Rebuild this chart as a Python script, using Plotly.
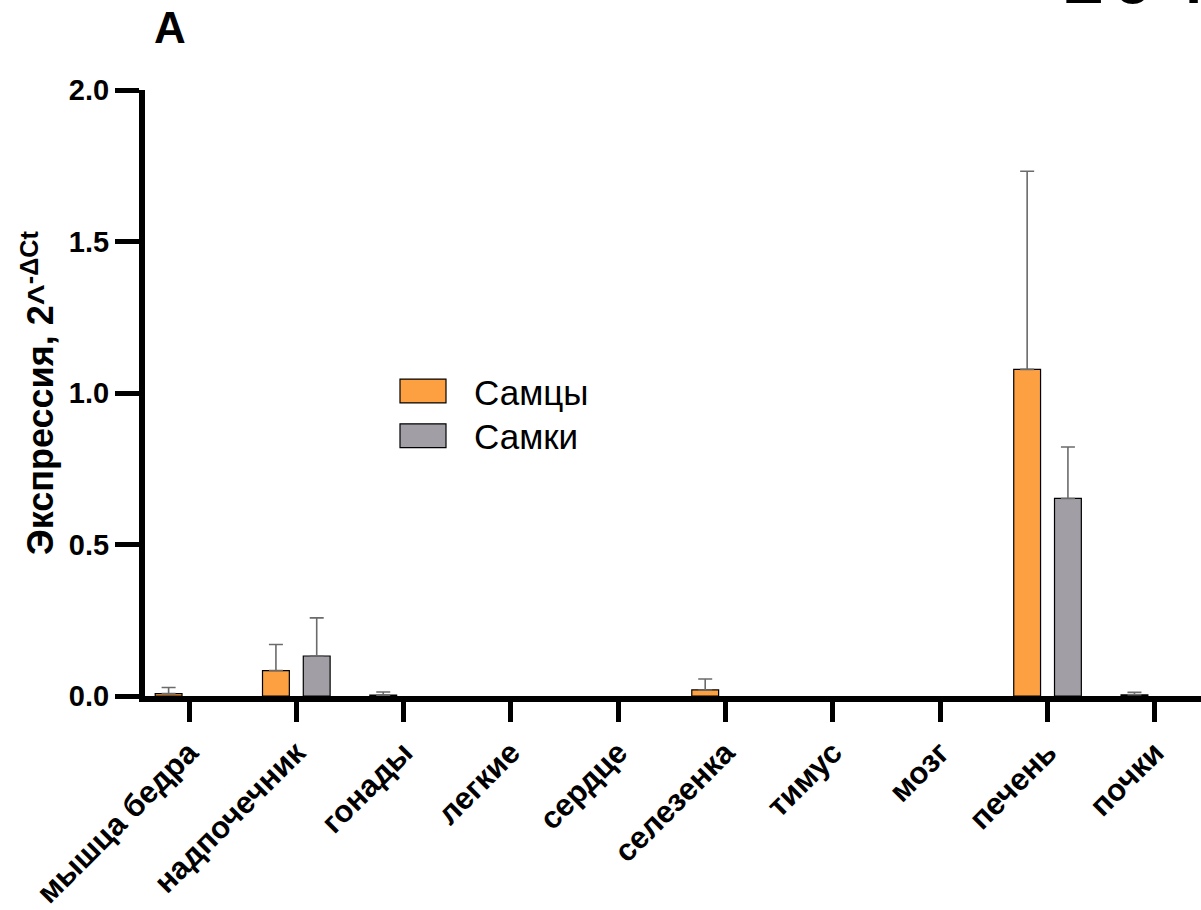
import plotly.graph_objects as go

# Tissue expression data (mean and upper error), 2^-ΔCt; None = no detectable signal
tissues = ["мышца бедра", "надпочечник", "гонады", "легкие", "сердце",
           "селезенка", "тимус", "мозг", "печень", "почки"]
males_mean = [0.008, 0.084, 0.003, None, None, 0.02, None, None, 1.078, 0.004]
males_err = [0.020, 0.086, 0.010, None, None, 0.036, None, None, 0.654, 0.008]
females_mean = [None, 0.132, None, None, None, None, None, None, 0.652, None]
females_err = [None, 0.126, None, None, None, None, None, None, 0.170, None]
series_names = ["Самцы", "Самки"]
y_ticks = [0.0, 0.5, 1.0, 1.5, 2.0]

ORANGE = "#FCA041"
GRAY = "#A19FA5"
FONT = "Arial, Liberation Sans"
x_pos = list(range(len(tissues)))

# plot area in pixels: x 145..1201, y 90..700
L, T, W, H = 145, 90, 1056, 610


def px(x):
    return (x - L) / W


def py(y):
    return (T + H - y) / H


fig = go.Figure()
for name, mean, err, color, offset in [
    (series_names[0], males_mean, males_err, ORANGE, -0.315),
    (series_names[1], females_mean, females_err, GRAY, 0.065),
]:
    fig.add_trace(go.Bar(
        x=x_pos, y=mean, name=name, width=0.25, offset=offset,
        marker=dict(color=color, line=dict(color="black", width=1.2)),
        error_y=dict(type="data", array=[e if e is not None else 0 for e in err],
                     arrayminus=[0] * len(err), symmetric=False,
                     color="#6b6b6b", thickness=1.6, width=7),
        showlegend=False,
    ))

# Legend drawn as boxes with labels
legend_items = [(series_names[0], ORANGE, 393), (series_names[1], GRAY, 438)]
for label, color, yc in legend_items:
    fig.add_shape(type="rect", xref="paper", yref="paper",
                  x0=px(400), x1=px(446), y0=py(yc + 12), y1=py(yc - 12),
                  fillcolor=color, line=dict(color="black", width=1.2))
    fig.add_annotation(text=label, xref="paper", yref="paper",
                       x=px(472), y=py(yc + 1), xanchor="left", yanchor="middle",
                       showarrow=False, font=dict(family=FONT, size=35, color="black"))

fig.add_annotation(text="<b>A</b>", xref="paper", yref="paper",
                   x=px(170), y=py(27), xanchor="center", yanchor="middle",
                   showarrow=False, font=dict(family=FONT, size=44, color="black"))
fig.add_annotation(text="104", xref="paper", yref="paper",
                   x=px(1053), y=py(-80), xanchor="left", yanchor="top",
                   showarrow=False, font=dict(family="DejaVu Sans Mono", size=86, color="black"))

fig.update_layout(
    width=1201, height=910,
    margin=dict(l=L, r=0, t=T, b=910 - T - H),
    plot_bgcolor="white", paper_bgcolor="white",
    font=dict(family=FONT, color="black"),
    barmode="overlay",
)
fig.update_xaxes(
    range=[-0.41, 9.43], tickvals=x_pos, ticktext=tissues,
    tickangle=-45, ticks="outside", ticklen=20, tickwidth=5, tickcolor="black",
    showline=True, linewidth=6, linecolor="black", showgrid=False, zeroline=False,
    tickfont=dict(family=FONT, size=31, color="black", weight="bold"),
)
fig.update_yaxes(
    range=[0, 2.0], tickvals=y_ticks, ticktext=[f"{v:.1f}" for v in y_ticks],
    ticks="outside", ticklen=24, tickwidth=5, tickcolor="black",
    showline=True, linewidth=6, linecolor="black", showgrid=False, zeroline=False,
    tickfont=dict(family=FONT, size=29, color="black", weight="bold"),
    title=dict(text="<b>Экспрессия, 2^<sup>-ΔCt</sup></b>", standoff=6,
               font=dict(family=FONT, size=36, color="black")),
)

fig.write_html("out.html")
